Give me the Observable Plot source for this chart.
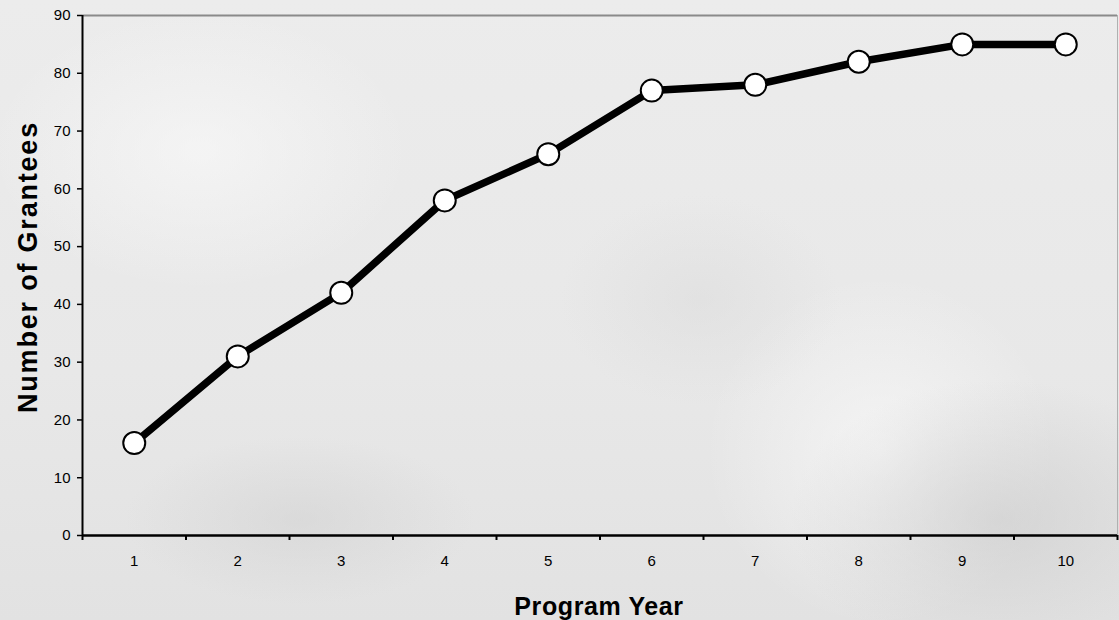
<!DOCTYPE html>
<html>
<head>
<meta charset="utf-8">
<script src="https://cdn.jsdelivr.net/npm/d3@7"></script>
<script src="https://cdn.jsdelivr.net/npm/@observablehq/plot@0.6"></script>
<style>
  html, body { margin: 0; padding: 0; }
  body {
    width: 1119px; height: 620px; overflow: hidden;
    background:
      radial-gradient(ellipse 300px 200px at 1000px 520px, rgba(200,200,200,0.55), rgba(200,200,200,0) 70%),
      radial-gradient(ellipse 250px 120px at 300px 520px, rgba(205,205,205,0.45), rgba(205,205,205,0) 70%),
      radial-gradient(ellipse 200px 150px at 700px 300px, rgba(215,215,215,0.4), rgba(215,215,215,0) 70%),
      radial-gradient(ellipse 300px 200px at 200px 150px, rgba(250,250,250,0.6), rgba(250,250,250,0) 70%),
      radial-gradient(ellipse 250px 250px at 880px 450px, rgba(252,252,252,0.6), rgba(252,252,252,0) 70%),
      linear-gradient(180deg, #ececec 0%, #e8e8e8 60%, #e2e2e2 100%);
    font-family: "Liberation Sans", Arial, sans-serif;
  }
  #chart svg { display: block; }
</style>
</head>
<body>
<div id="chart"></div>
<script>
const years = [1, 2, 3, 4, 5, 6, 7, 8, 9, 10];
const grantees = [16, 31, 42, 58, 66, 77, 78, 82, 85, 85];
const yTicks = [0, 10, 20, 30, 40, 50, 60, 70, 80, 90];
const xTitle = "Program Year";
const yTitle = "Number of Grantees";

const data = years.map((y, i) => ({year: y, value: grantees[i]}));
const bounds = years.map(d => d - 0.5).concat([years[years.length - 1] + 0.5]);
const xDomain = [bounds[0], bounds[bounds.length - 1]];

const chart = Plot.plot({
  width: 1119,
  height: 620,
  marginLeft: 82,
  marginRight: 2,
  marginTop: 15,
  marginBottom: 85,
  style: {background: "transparent", fontFamily: "'Liberation Sans', Arial, sans-serif", fontSize: "15px", color: "#000"},
  x: {domain: xDomain, axis: null},
  y: {domain: [0, 90], axis: null},
  marks: [
    Plot.ruleY([90], {stroke: "#8a8a8a", strokeWidth: 2}),
    Plot.ruleX([xDomain[1]], {stroke: "#b0b0b0", strokeWidth: 1}),
    Plot.axisY({ticks: yTicks, tickSize: 5, tickPadding: 7, stroke: "#000", strokeWidth: 1.5, label: null}),
    Plot.axisX({ticks: years, tickSize: 0, tickPadding: 20, label: null, tickFormat: d => String(d)}),
    Plot.axisX({ticks: bounds, tickSize: 5, tickFormat: () => "", stroke: "#000", strokeWidth: 2, label: null}),
    Plot.ruleX([xDomain[0]], {stroke: "#000", strokeWidth: 2}),
    Plot.ruleY([0], {stroke: "#000", strokeWidth: 2.5}),
    Plot.line(data, {x: "year", y: "value", stroke: "#000", strokeWidth: 7.5, strokeLinejoin: "round"}),
    Plot.dot(data, {x: "year", y: "value", r: 11, fill: "#fff", stroke: "#000", strokeWidth: 2})
  ]
});

const svg = d3.select(chart);
// enlarge tick labels to match the reference
svg.selectAll('[aria-label$="tick label"], [aria-label$="tick label"] text')
  .style("font-size", "15px")
  .style("font-family", "'Liberation Sans', Arial, sans-serif");

// axis titles as real text in the SVG
svg.append("text")
  .attr("x", 599).attr("y", 615)
  .attr("text-anchor", "middle")
  .style("font-size", "25px").attr("font-weight", "bold")
  .attr("letter-spacing", "0.6px")
  .attr("font-family", "'Liberation Sans', Arial, sans-serif")
  .text(xTitle);
svg.append("text")
  .attr("transform", "translate(37,267) rotate(-90)")
  .attr("text-anchor", "middle")
  .style("font-size", "27px").attr("font-weight", "bold")
  .attr("letter-spacing", "1.8px")
  .attr("font-family", "'Liberation Sans', Arial, sans-serif")
  .text(yTitle);

document.getElementById("chart").appendChild(chart);
</script>
</body>
</html>
